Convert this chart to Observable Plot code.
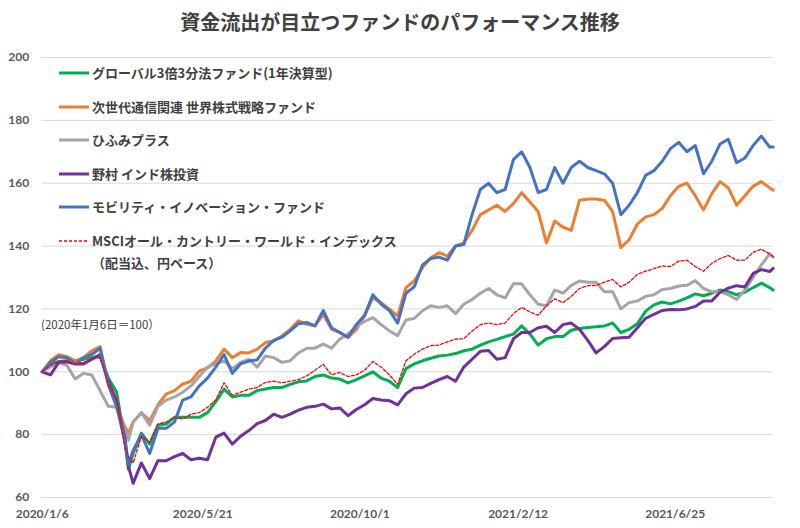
<!DOCTYPE html>
<html><head><meta charset="utf-8">
<script src="https://cdn.jsdelivr.net/npm/d3@7"></script>
<script src="https://cdn.jsdelivr.net/npm/@observablehq/plot@0.6"></script>
<style>
body{margin:0;background:#fff;}
#wrap{position:relative;width:800px;height:528px;font-family:"Noto Sans CJK JP",sans-serif;overflow:hidden;}
#title{height:40px;text-align:center;font-size:20px;font-weight:bold;color:#404040;line-height:44px;}
.item{position:absolute;display:flex;align-items:center;font-size:13px;font-weight:bold;color:#404040;white-space:nowrap;height:18px;line-height:18px;}
.item svg{margin-right:3px;}
#note{position:absolute;left:41px;top:316px;font-size:11.5px;color:#404040;white-space:nowrap;}
</style></head>
<body><div id="wrap"><div id="title">資金流出が目立つファンドのパフォーマンス推移</div><div id="chart"></div><div id="legend"></div><div id="note">(2020年1月6日＝100）</div></div>
<script>
const dates = ["2020-01-06","2020-01-13","2020-01-20","2020-01-27","2020-02-03","2020-02-10","2020-02-17","2020-02-24","2020-03-02","2020-03-09","2020-03-16","2020-03-19","2020-03-23","2020-03-30","2020-04-06","2020-04-13","2020-04-20","2020-04-27","2020-05-04","2020-05-11","2020-05-18","2020-05-25","2020-06-01","2020-06-08","2020-06-15","2020-06-22","2020-06-29","2020-07-06","2020-07-13","2020-07-20","2020-07-27","2020-08-03","2020-08-10","2020-08-17","2020-08-24","2020-08-31","2020-09-07","2020-09-14","2020-09-21","2020-09-28","2020-10-05","2020-10-12","2020-10-19","2020-10-26","2020-11-02","2020-11-09","2020-11-16","2020-11-23","2020-11-30","2020-12-07","2020-12-14","2020-12-21","2020-12-28","2021-01-04","2021-01-11","2021-01-18","2021-01-25","2021-02-01","2021-02-08","2021-02-15","2021-02-22","2021-03-01","2021-03-08","2021-03-15","2021-03-22","2021-03-29","2021-04-05","2021-04-12","2021-04-19","2021-04-26","2021-05-03","2021-05-10","2021-05-17","2021-05-24","2021-05-31","2021-06-07","2021-06-14","2021-06-21","2021-06-28","2021-07-05","2021-07-12","2021-07-19","2021-07-26","2021-08-02","2021-08-09","2021-08-16","2021-08-23","2021-08-30","2021-09-06","2021-09-13","2021-09-16"];

const globalTriple = [100,102.5,103.3,103.5,103.5,104,104.5,105,98,93.5,78,69,74,80.5,77,83,83.4,85.5,85.5,85.5,85.5,87,90.5,94.5,92,92.5,92.5,94,94.5,95,95,96,96.8,97.1,98.5,99,98,97.7,96.5,97.5,98.7,100,98,97,95,101,102.5,103.5,104.3,105,105.3,105.8,106.7,107.2,108.5,109.5,110.3,111.2,112,114.6,112,108.5,110.5,111.2,111.2,113.2,113.8,114.1,114.3,114.6,115.5,112.5,113.5,115.3,119.3,121.3,122.2,121.6,122.5,123.5,124.8,124.2,125,126,125.5,124.5,125.3,126.8,128.2,126.8,126];

const nextGenComm = [100,103.5,105.4,104.8,103.5,104.5,106.7,108,96,89,82.5,80.5,84,87,84.4,89.5,92.9,94,96.1,97,100.3,101.2,103.5,107.2,104.5,106.1,106,107.2,109.3,109.8,111.4,113.5,116.2,115.1,114.6,118.3,113.5,112.5,110.9,113.5,117.8,123.6,122,119.9,117.8,126.8,128.9,133.1,136.3,137.9,136.8,140,141,145,150,151.5,153,151,153.5,157,154,151,141,148,146,145,154.6,155,155,154.6,151,139.5,142,147,149.3,150,152,156,159,160,156,151.5,156.7,160.5,158.5,153,156,159,160.5,158.5,157.8];

const hifumiPlus = [100,101.5,103,102,97.7,99.5,99,94,89,88.7,81.5,78.2,84,87,83,89,91,92,93.5,95.5,98.5,101.5,102.5,103.5,101,103,104,101.5,105,104.5,103,103.5,106,107.5,107.5,108.8,107.5,110.4,112,114.5,116,117.2,115,113,111.5,116.5,117,119.4,121,120.5,121,118.5,121.5,123,125,126.5,124.5,123.5,128,128,124.5,121.5,121,126,125,127.5,128.9,128.5,128.5,125.5,125.5,120,122,122.5,124,124.5,126.2,126.5,127.3,127.5,129,126.5,125.5,125.5,124.5,123,126,130,134,137.5,136.5];

const nomuraIndia = [100,99,103,103.2,102.5,102.5,104,105.5,97,90.5,79,70,64.5,71,66,71.7,71.7,73,74,72,72.5,72,79.2,80.5,77,79.5,81.3,83.5,84.5,86.5,85.5,86.5,87.8,88.7,89,89.7,88.2,88.5,86,88,89.5,91.5,91,90.8,89.5,93,94.8,95,96.3,97.5,98.5,97,101.5,104,106.5,106.8,104,104.5,110.5,112.5,112.5,114,114.5,112.5,115,115.5,113.5,110,106,108,110.6,110.8,111,114,117,118.3,119.5,119.8,119.7,120,120.8,122.5,122.5,125.3,126.6,127.4,127,131.3,132.5,131.9,132.9];

const mobility = [100,103,104.8,104.5,102.5,104.5,105.5,107.5,96,89,78,70.5,75,80,74,82,82,84,91,92,95.5,98,101.5,105.5,99.5,102.5,103.4,103.8,107.5,110,111,113,115.3,115.7,114.6,119.5,114,112.5,111,115,118,124.5,121.5,119.5,115.5,125,127,134,136,136.5,135.5,140,140.5,150,158,160,157,158,167.5,170,165,157,158,165,160,165,167,165,164,163,160,150,153,157,162.5,164,167,171,173,170,172,163,167,172.5,174,166.5,168,172,175,171.5,171.5];

const msciAcwi = [100,102,103.3,103.3,102.5,103,104,104.5,96,91,76,73,71,79.5,77.5,83.4,84,85.5,85,86.5,87,88.7,91,96.5,92.5,93.5,94.5,95,96.6,97,96.5,97,97.5,98.7,100.5,102.4,99,99.8,98.5,99,100.5,103.3,101.5,99,96,103.5,105.6,107.2,108.3,108.5,109.5,110.4,110.5,113,115,115.5,115,115.5,118.5,120.5,119,118,121,123.2,122,124,126.5,127.4,127.5,128.5,129.4,127,128.5,131,132,132.8,133.7,133.5,135.2,135.5,133.5,132,134.5,136,137,135.5,135.5,138,139,137.5,136.6];

const seriesNames = ["グローバル3倍3分法ファンド(1年決算型)","次世代通信関連 世界株式戦略ファンド","ひふみプラス","野村 インド株投資","モビリティ・イノベーション・ファンド","MSCIオール・カントリー・ワールド・インデックス"];
const seriesValues = [globalTriple, nextGenComm, hifumiPlus, nomuraIndia, mobility, msciAcwi];
const seriesColors = ["#00b050","#ed7d31","#a5a5a5","#7030a0","#4472c4","#ff0000"];
const legendSub = "（配当込、円ベース）";
const xTickLabels = ["2020-01-06","2020-05-21","2020-10-01","2021-02-12","2021-06-25"];
const yTicks = [60,80,100,120,140,160,180,200];
const xDomain = ["2020-01-06","2021-09-16"];

const parse = d3.utcParse("%Y-%m-%d");
const rows = [];
seriesNames.forEach((name, k) => {
  seriesValues[k].forEach((v, i) => rows.push({date: parse(dates[i]), value: v, series: name}));
});
const solidRows = rows.filter(r => r.series !== seriesNames[5]);
const dashRows = rows.filter(r => r.series === seriesNames[5]);

const chart = Plot.plot({
  width: 800, height: 488,
  marginLeft: 41.7, marginRight: 27.3, marginTop: 17, marginBottom: 31,
  style: {fontFamily: "Lato, 'Noto Sans CJK JP', sans-serif", fontSize: "12px", fontWeight: "bold", color: "#595959", background: "transparent"},
  x: {type: "utc", domain: xDomain.map(parse)},
  y: {domain: [60, 200]},
  color: {domain: seriesNames, range: seriesColors},
  marks: [
    Plot.gridY(yTicks, {stroke: "#d9d9d9", strokeOpacity: 1, strokeWidth: 1}),
    Plot.axisY(yTicks, {tickSize: 0, tickPadding: 13, label: null}),
    Plot.axisX(xTickLabels.map(parse), {tickSize: 0, tickPadding: 12, label: null, tickFormat: d3.utcFormat("%Y/%-m/%-d")}),
    Plot.line(solidRows, {x: "date", y: "value", z: "series", stroke: "series", strokeWidth: 3, strokeLinejoin: "round"}),
    Plot.line(dashRows, {x: "date", y: "value", stroke: seriesColors[5], strokeWidth: 1.3, strokeDasharray: "3,2"})
  ]
});
document.getElementById("chart").appendChild(chart);

// legend overlay
const legendTops = [64, 98, 131, 165, 198, 232];
const legend = document.getElementById("legend");
seriesNames.forEach((name, k) => {
  const div = document.createElement("div");
  div.className = "item";
  div.style.left = "59px";
  div.style.top = legendTops[k] + "px";
  const dash = k === 5 ? ' stroke-dasharray="3,2" ' : '';
  const sw = k === 5 ? 1.3 : 3;
  div.innerHTML = `<svg width="30" height="6"><line x1="0" x2="30" y1="3" y2="3" stroke="${seriesColors[k]}" stroke-width="${sw}"${dash}/></svg><span>${name}</span>`;
  legend.appendChild(div);
});
const sub = document.createElement("div");
sub.className = "item";
sub.style.left = "92px";
sub.style.top = "254px";
sub.textContent = legendSub;
legend.appendChild(sub);
</script>
</body></html>
